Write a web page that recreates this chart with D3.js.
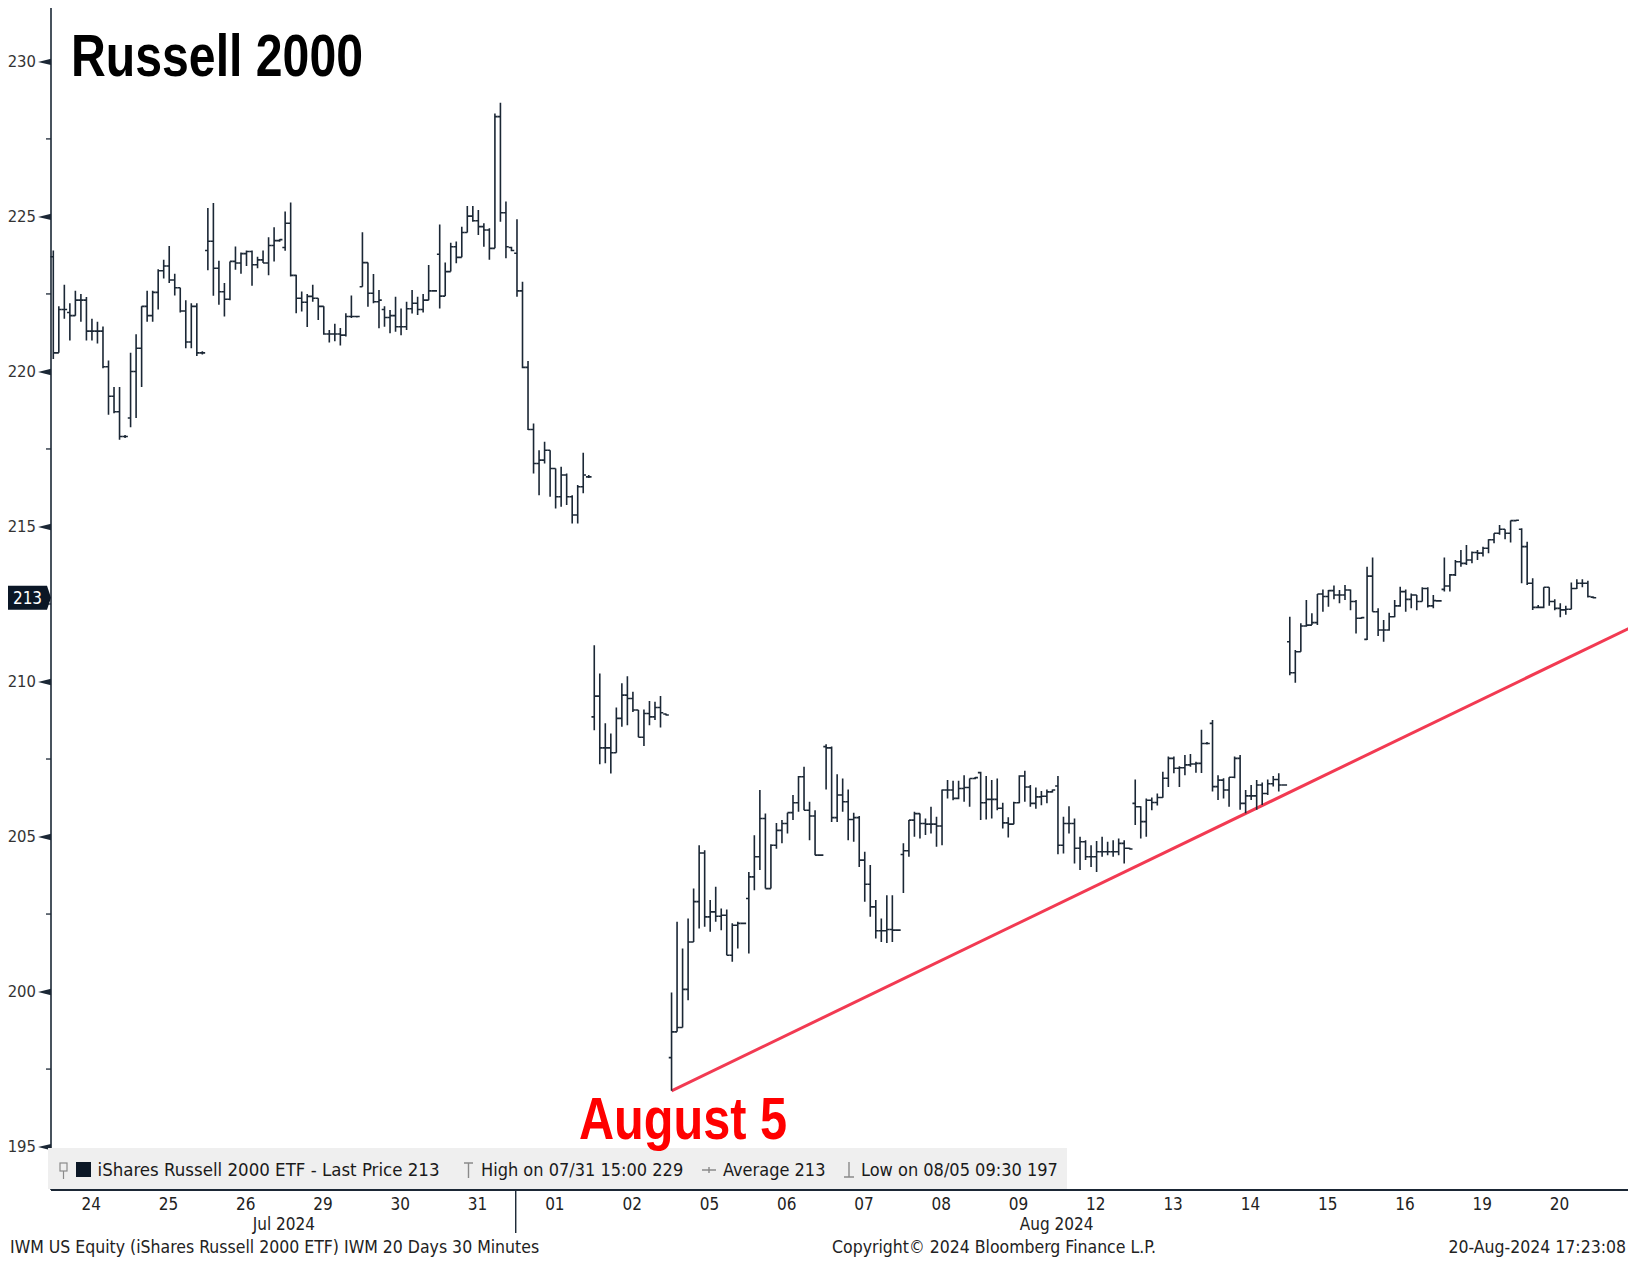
<!DOCTYPE html>
<html>
<head>
<meta charset="utf-8">
<title>Russell 2000</title>
<script src="https://cdnjs.cloudflare.com/ajax/libs/d3/7.8.5/d3.min.js"></script>
<style>
    body { margin: 0; background: #ffffff; }
    #chart svg { display: block; font-family: "DejaVu Sans Condensed", "DejaVu Sans", sans-serif; }
    .big-label { font-family: "Liberation Sans Narrow", "Arial Narrow", "Liberation Sans", sans-serif; font-weight: bold; }
</style>
</head>
<body>
<div id="chart"></div>
<script>

// trading days on the x axis (14 thirty-minute bars each, 09:30 .. 16:00)
const dayLabels = ["24", "25", "26", "29", "30", "31", "01", "02", "05", "06",
                   "07", "08", "09", "12", "13", "14", "15", "16", "19", "20"];
const monthLabels = ["Jul 2024", "Aug 2024"];
const monthFirstDay = [0, 6];
const barsPerDay = 14;

// IWM 30 minute bars, one row per day
const opens = [
    223.7, 220.6, 222.0, 221.9, 221.8, 222.3, 222.3, 221.3, 221.3, 221.3, 220.15, 219.2, 218.7, 217.9,
    218.5, 220.0, 220.75, 222.1, 221.8, 222.55, 223.25, 223.4, 222.95, 222.7, 221.95, 220.95, 222.1, 220.6,
    223.9, 224.2, 223.33, 222.57, 222.33, 223.55, 223.5, 223.8, 223.87, 223.44, 223.6, 223.5, 224.06, 224.22,
    224.0, 224.78, 223.1, 222.36, 222.23, 222.42, 222.36, 222.1, 221.21, 221.21, 221.21, 221.17, 221.77, 221.77,
    222.73, 223.51, 222.52, 222.25, 222.0, 221.74, 221.8, 221.44, 221.44, 222.02, 222.2, 222.0, 222.3, 222.6,
    223.78, 222.43, 223.22, 224.02, 223.68, 224.48, 225.01, 224.86, 224.67, 224.56, 223.97, 228.22, 225.12, 224.0,
    223.81, 222.6, 220.13, 218.13, 217.03, 217.14, 217.46, 216.87, 215.96, 216.66, 215.96, 215.37, 216.28, 216.6,
    208.86, 209.53, 207.86, 207.86, 207.7, 208.81, 209.56, 209.45, 209.08, 208.2, 208.97, 208.86, 209.16, 208.95,
    197.87, 198.7, 198.84, 200.07, 201.6, 202.9, 204.47, 202.41, 202.57, 202.43, 202.46, 201.17, 202.14, 202.2,
    203.0, 203.7, 204.35, 205.58, 203.32, 204.72, 205.2, 205.42, 205.77, 206.09, 206.93, 205.85, 205.66, 204.4,
    207.9, 207.86, 205.61, 206.34, 206.12, 205.55, 205.61, 204.24, 203.46, 202.73, 201.96, 201.96, 202.0, 201.98,
    204.42, 204.54, 205.53, 205.74, 205.42, 205.4, 205.4, 205.34, 206.5, 206.5, 206.23, 206.55, 206.58, 206.87,
    207.06, 206.09, 206.2, 206.2, 205.91, 205.44, 205.4, 206.09, 206.95, 206.6, 206.07, 206.28, 206.3, 206.44,
    206.63, 204.72, 205.42, 205.42, 204.62, 204.83, 204.35, 204.35, 204.51, 204.51, 204.51, 204.51, 204.78, 204.62,
    206.07, 205.96, 205.48, 206.17, 206.1, 206.26, 206.88, 207.52, 207.2, 207.22, 207.31, 207.34, 207.36, 208.0,
    208.65, 206.61, 206.82, 206.5, 206.91, 207.52, 206.07, 206.31, 206.31, 206.66, 206.39, 206.7, 206.84, 206.66,
    211.28, 210.28, 210.96, 211.79, 211.82, 211.9, 212.82, 212.74, 212.93, 212.79, 212.79, 212.95, 212.58, 212.04,
    211.36, 213.4, 212.25, 211.66, 211.66, 212.09, 212.44, 212.9, 212.65, 212.79, 212.58, 213.0, 212.44, 212.6,
    212.97, 213.08, 213.44, 213.86, 213.81, 213.92, 214.16, 214.14, 214.3, 214.57, 214.78, 214.91, 214.78, 215.19,
    214.91, 214.35, 213.17, 212.39, 212.39, 213.04, 212.58, 212.36, 212.31, 212.33, 213.0, 213.17, 213.17, 212.72
];
const highs = [
    223.9, 222.1, 222.8, 222.2, 222.6, 222.5, 222.4, 221.7, 221.6, 221.45, 220.35, 219.5, 219.5, 217.95,
    220.6, 221.2, 222.1, 222.6, 222.6, 223.3, 223.6, 224.05, 223.15, 222.7, 222.3, 222.2, 222.2, 220.65,
    225.27, 225.43, 223.57, 222.85, 223.55, 224.03, 223.84, 223.9, 223.9, 223.7, 223.9, 224.33, 224.65, 224.26,
    225.16, 225.45, 223.12, 222.58, 222.5, 222.8, 222.36, 222.1, 221.34, 221.54, 221.4, 221.88, 222.45, 221.8,
    224.49, 223.51, 223.14, 222.63, 222.1, 221.98, 222.41, 222.03, 222.25, 222.63, 222.41, 222.5, 223.43, 222.62,
    224.74, 223.51, 224.15, 224.19, 224.67, 225.34, 225.34, 225.21, 224.78, 224.62, 228.32, 228.67, 225.48, 224.02,
    224.91, 222.89, 220.34, 218.32, 217.46, 217.73, 217.46, 216.87, 216.93, 216.71, 216.01, 216.34, 217.38, 216.66,
    211.17, 210.26, 208.65, 208.32, 209.16, 209.94, 210.17, 209.67, 209.08, 209.1, 209.37, 209.35, 209.53, 208.97,
    199.97, 202.25, 201.39, 202.36, 203.32, 204.72, 204.56, 202.95, 203.38, 202.68, 202.65, 202.2, 202.25, 202.22,
    203.86, 205.04, 206.5, 205.74, 204.75, 205.44, 205.53, 205.77, 206.34, 206.95, 207.25, 206.12, 205.85, 204.42,
    207.98, 207.9, 207.01, 206.87, 206.52, 205.77, 205.66, 204.51, 204.08, 202.95, 202.36, 203.11, 203.11, 202.0,
    204.78, 205.53, 205.8, 205.74, 205.58, 205.96, 205.64, 206.52, 206.82, 206.8, 206.8, 206.98, 206.87, 206.92,
    207.09, 206.95, 206.82, 206.87, 206.09, 205.62, 206.12, 206.98, 207.12, 206.66, 206.58, 206.47, 206.52, 206.52,
    206.95, 205.64, 205.98, 205.58, 204.99, 204.88, 204.72, 204.86, 204.99, 204.83, 204.88, 204.94, 204.88, 204.64,
    206.84, 205.98, 206.23, 206.26, 206.39, 207.09, 207.58, 207.58, 207.27, 207.63, 207.66, 207.41, 208.44, 208.05,
    208.76, 206.98, 206.88, 206.91, 207.58, 207.63, 206.5, 206.66, 206.82, 206.74, 206.84, 206.95, 207.04, 206.68,
    212.09, 211.02, 211.88, 212.63, 212.2, 212.82, 212.97, 212.95, 213.1, 212.95, 213.11, 212.97, 212.63, 212.08,
    213.7, 214.0, 212.36, 211.98, 212.22, 212.63, 213.06, 212.97, 212.84, 212.79, 213.04, 213.04, 212.79, 212.62,
    214.0, 213.47, 213.92, 214.24, 214.4, 214.19, 214.24, 214.35, 214.59, 214.78, 215.05, 214.91, 215.19, 215.21,
    214.94, 214.51, 213.33, 212.47, 213.04, 213.04, 212.65, 212.52, 212.44, 213.19, 213.3, 213.3, 213.25, 212.74
];
const lows = [
    220.4, 220.6, 221.7, 221.0, 221.8, 221.6, 221.0, 221.0, 220.9, 220.1, 218.6, 218.65, 217.8, 217.85,
    218.2, 218.5, 219.5, 221.6, 221.6, 222.0, 223.0, 222.85, 222.45, 221.9, 220.75, 220.75, 220.5, 220.55,
    223.26, 222.44, 222.15, 221.77, 222.3, 223.28, 223.15, 223.4, 222.76, 223.33, 223.5, 223.1, 223.55, 224.18,
    223.89, 223.06, 221.88, 221.93, 221.43, 222.25, 221.66, 221.18, 220.93, 220.97, 220.84, 221.13, 221.72, 221.74,
    222.73, 222.09, 222.2, 221.39, 221.44, 221.23, 221.28, 221.17, 221.34, 221.87, 221.82, 221.9, 222.3, 222.58,
    222.03, 222.43, 223.22, 223.49, 223.68, 224.48, 224.83, 224.4, 224.02, 223.6, 223.97, 224.83, 223.65, 223.88,
    222.41, 220.1, 218.11, 216.71, 216.01, 217.03, 215.96, 215.58, 215.64, 215.69, 215.1, 215.1, 216.07, 216.56,
    208.43, 207.33, 207.36, 207.03, 207.7, 208.54, 208.59, 209.02, 208.2, 207.92, 208.59, 208.76, 208.52, 208.9,
    196.8, 198.7, 198.84, 199.72, 201.6, 202.03, 202.09, 201.93, 202.25, 201.98, 201.17, 200.96, 201.39, 202.18,
    201.23, 203.27, 203.92, 203.32, 203.32, 204.61, 204.78, 205.1, 205.53, 205.8, 205.85, 204.88, 204.4, 204.38,
    206.52, 205.47, 205.47, 205.8, 204.88, 204.83, 204.02, 202.9, 202.41, 201.71, 201.6, 201.57, 201.6, 201.96,
    203.18, 204.35, 204.99, 204.94, 205.05, 205.1, 204.67, 204.72, 206.23, 206.17, 206.2, 206.12, 205.96, 206.85,
    205.53, 205.55, 205.58, 205.85, 205.26, 204.97, 205.4, 206.07, 206.12, 205.96, 205.9, 206.01, 206.07, 206.42,
    204.43, 204.45, 205.1, 204.13, 203.92, 204.24, 204.02, 203.86, 204.35, 204.4, 204.35, 204.4, 204.13, 204.58,
    205.37, 204.94, 204.99, 205.85, 206.0, 206.25, 206.6, 207.04, 206.6, 206.98, 207.25, 207.06, 207.05, 207.97,
    206.45, 206.18, 206.23, 205.96, 206.88, 205.86, 205.75, 206.18, 205.86, 206.02, 206.34, 206.61, 206.45, 206.64,
    210.2, 209.96, 210.96, 211.77, 211.82, 211.82, 212.25, 212.41, 212.65, 212.52, 212.63, 212.3, 211.55, 212.02,
    211.34, 212.25, 211.47, 211.28, 211.64, 212.07, 212.41, 212.25, 212.36, 212.3, 212.58, 212.39, 212.36, 212.58,
    212.9, 212.9, 213.4, 213.7, 213.76, 213.81, 213.92, 214.03, 214.14, 214.46, 214.73, 214.59, 214.48, 215.17,
    213.17, 213.11, 212.31, 212.36, 212.36, 212.44, 212.3, 212.07, 212.15, 212.33, 212.98, 213.04, 212.71, 212.68
];
const closes = [
    220.6, 222.0, 222.0, 221.8, 222.3, 222.3, 221.3, 221.3, 221.3, 220.15, 219.2, 218.7, 217.9, 217.9,
    220.0, 220.75, 222.1, 221.8, 222.55, 223.25, 223.4, 222.95, 222.7, 221.95, 220.95, 222.1, 220.6, 220.6,
    224.2, 223.33, 222.57, 222.33, 223.55, 223.5, 223.8, 223.87, 223.44, 223.6, 223.5, 224.06, 224.22, 224.25,
    224.78, 223.1, 222.36, 222.23, 222.42, 222.36, 222.1, 221.21, 221.21, 221.21, 221.17, 221.77, 221.77, 221.77,
    223.51, 222.52, 222.25, 222.3, 221.74, 221.8, 221.44, 221.44, 222.02, 222.2, 222.0, 222.3, 222.6, 222.6,
    222.43, 223.22, 224.02, 223.68, 224.48, 225.01, 224.86, 224.67, 224.56, 223.97, 228.22, 225.12, 224.02, 223.9,
    222.6, 220.13, 218.13, 217.03, 217.14, 217.46, 216.87, 215.96, 216.66, 215.96, 215.37, 216.28, 216.66, 216.6,
    209.53, 207.86, 207.86, 207.7, 208.81, 209.56, 209.45, 209.08, 208.2, 208.97, 208.86, 209.16, 208.99, 208.92,
    198.7, 198.84, 200.07, 201.6, 202.9, 204.47, 202.41, 202.57, 202.43, 202.46, 201.17, 202.14, 202.2, 202.2,
    203.7, 204.35, 205.58, 203.32, 204.72, 205.2, 205.42, 205.77, 206.09, 206.93, 205.85, 205.66, 204.4, 204.4,
    207.86, 205.61, 206.34, 206.12, 205.55, 205.61, 204.24, 203.46, 202.73, 201.96, 201.96, 202.0, 201.98, 201.98,
    204.54, 205.53, 205.74, 205.42, 205.4, 205.4, 205.34, 206.5, 206.5, 206.23, 206.55, 206.58, 206.87, 206.9,
    206.09, 206.2, 206.2, 205.91, 205.44, 205.4, 206.09, 206.95, 206.6, 206.07, 206.28, 206.3, 206.44, 206.5,
    204.72, 205.42, 205.42, 204.62, 204.83, 204.35, 204.35, 204.51, 204.51, 204.51, 204.51, 204.78, 204.62, 204.6,
    205.96, 205.48, 206.17, 206.1, 206.26, 206.88, 207.52, 207.2, 207.22, 207.31, 207.34, 207.36, 208.0, 208.0,
    206.61, 206.82, 206.5, 206.91, 207.52, 206.07, 206.31, 206.31, 206.66, 206.39, 206.7, 206.84, 206.66, 206.66,
    210.28, 210.96, 211.79, 211.82, 211.9, 212.82, 212.74, 212.93, 212.79, 212.79, 212.95, 212.58, 212.04, 212.06,
    213.4, 212.25, 211.66, 211.66, 212.09, 212.44, 212.9, 212.65, 212.79, 212.58, 213.0, 212.44, 212.61, 212.6,
    213.08, 213.44, 213.86, 213.81, 213.92, 214.16, 214.14, 214.3, 214.57, 214.78, 214.91, 214.78, 215.19, 215.2,
    214.35, 213.17, 212.39, 212.39, 213.04, 212.58, 212.36, 212.31, 212.33, 213.0, 213.17, 213.17, 212.74, 212.7
];

const yTicks = [195, 200, 205, 210, 215, 220, 225, 230];
const lastPrice = 212.7;
const lastPriceLabel = "213";

// support line drawn from the Aug 5 low (bar index, price)
const trendBars = [112, 285.5];
const trendPrices = [196.8, 211.72];

const legendTexts = ["iShares Russell 2000 ETF - Last Price 213", "High on 07/31 15:00 229",
                     "Average 213", "Low on 08/05 09:30 197"];
const titleText = "Russell 2000";
const noteText = "August 5";
const footerLeft = "IWM US Equity (iShares Russell 2000 ETF) IWM 20 Days 30 Minutes";
const footerMid = "Copyright\u00a9 2024 Bloomberg Finance L.P.";
const footerRight = "20-Aug-2024 17:23:08";


class OhlcChart {

    constructor(parentElement) {
        this._parentElement = parentElement;
        this._bars = opens.map((o, i) => ({i: i, o: o, h: highs[i], l: lows[i], c: closes[i]}));
    }

    initVis() {
        let vis = this;

        vis.width = 1628;
        vis.height = 1262;
        vis.axisX = 51;        // left edge of plot (y axis line)
        vis.axisY = 1190;      // bottom of plot (x axis line)

        vis.svg = d3.select("#" + vis._parentElement).append("svg")
            .attr("width", vis.width)
            .attr("height", vis.height);

        // Scales
        vis.x = d3.scaleLinear()
            .domain([0, vis._bars.length - 1])
            .range([53.3, 1593.4]);

        vis.y = d3.scaleLinear()
            .domain([193.6, 231.98])
            .range([vis.axisY, 0]);

        vis.drawTrend();
        vis.updateVis();
        vis.drawAxes();
        vis.drawLegend();
        vis.drawLabels();
    }

    updateVis() {
        let vis = this;
        let tick = 2.8;

        vis.svg.append("g")
            .attr("class", "bars")
            .selectAll("path")
            .data(vis._bars)
            .enter().append("path")
            .attr("fill", "none")
            .attr("stroke", "#1b2735")
            .attr("stroke-width", 1.6)
            .attr("d", d => {
                let cx = vis.x(d.i);
                return "M" + cx + "," + vis.y(d.h) + "V" + vis.y(d.l) +
                    "M" + (cx - tick) + "," + vis.y(d.o) + "H" + cx +
                    "M" + cx + "," + vis.y(d.c) + "H" + (cx + tick);
            });
    }

    drawTrend() {
        let vis = this;
        vis.svg.append("line")
            .attr("x1", vis.x(trendBars[0]))
            .attr("y1", vis.y(trendPrices[0]))
            .attr("x2", vis.x(trendBars[1]))
            .attr("y2", vis.y(trendPrices[1]))
            .attr("stroke", "#f23a52")
            .attr("stroke-width", 3);
    }

    drawAxes() {
        let vis = this;

        // y axis: labels from d3, Bloomberg style arrow ticks drawn by hand
        let yAxis = d3.axisLeft(vis.y)
            .tickValues(yTicks)
            .tickSize(0)
            .tickPadding(15);

        let yg = vis.svg.append("g")
            .attr("class", "y-axis axis")
            .attr("transform", "translate(" + vis.axisX + ",0)")
            .call(yAxis);
        yg.select(".domain").remove();
        yg.selectAll("text")
            .attr("font-family", "DejaVu Sans Condensed, DejaVu Sans, sans-serif")
            .attr("font-size", 16.5)
            .attr("fill", "#333");

        yg.selectAll(".tick").append("path")
            .attr("d", "M-13,0 L0,-3.2 L0,3.2 Z")
            .attr("fill", "#1b2735");

        let minor = d3.range(197.5, 231, 5);
        yg.selectAll(".minor")
            .data(minor)
            .enter().append("line")
            .attr("class", "minor")
            .attr("x1", -5).attr("x2", 0)
            .attr("y1", d => vis.y(d)).attr("y2", d => vis.y(d))
            .attr("stroke", "#1b2735")
            .attr("stroke-width", 1.3);

        vis.svg.append("line")
            .attr("x1", vis.axisX).attr("x2", vis.axisX)
            .attr("y1", 8).attr("y2", vis.axisY)
            .attr("stroke", "#1b2735")
            .attr("stroke-width", 1.6);

        // x axis: one label per trading day, centred on its 14 bars
        let dayCentres = dayLabels.map((d, i) => i * barsPerDay + (barsPerDay - 1) / 2);
        let xAxis = d3.axisBottom(vis.x)
            .tickValues(dayCentres)
            .tickFormat((d, i) => dayLabels[i])
            .tickSize(0)
            .tickPadding(8);

        let xg = vis.svg.append("g")
            .attr("class", "x-axis axis")
            .attr("transform", "translate(1.5," + vis.axisY + ")")
            .call(xAxis);
        xg.select(".domain").remove();
        xg.selectAll("text")
            .attr("font-family", "DejaVu Sans Condensed, DejaVu Sans, sans-serif")
            .attr("font-size", 17)
            .attr("fill", "#222");

        // month labels under the day labels
        monthLabels.forEach((m, i) => {
            let first = monthFirstDay[i];
            let last = i + 1 < monthFirstDay.length ? monthFirstDay[i + 1] - 1 : dayLabels.length - 1;
            let mid = (dayCentres[first] + dayCentres[last]) / 2;
            vis.svg.append("text")
                .attr("x", vis.x(mid) + 1.5)
                .attr("y", 1230)
                .attr("text-anchor", "middle")
                .attr("font-size", 17)
                .attr("fill", "#222")
                .text(m);
        });

        // separator between the months
        let sep = vis.x(monthFirstDay[1] * barsPerDay - 0.5) + 1.5;
        vis.svg.append("line")
            .attr("x1", sep).attr("x2", sep)
            .attr("y1", vis.axisY).attr("y2", 1233)
            .attr("stroke", "#1b2735")
            .attr("stroke-width", 1.4);

        vis.svg.append("line")
            .attr("x1", vis.axisX).attr("x2", vis.width)
            .attr("y1", vis.axisY).attr("y2", vis.axisY)
            .attr("stroke", "#1b2735")
            .attr("stroke-width", 2);

        // last price tag on the y axis
        let ly = vis.y(lastPrice);
        vis.svg.append("path")
            .attr("d", "M8," + (ly - 12) + "H47L51," + ly + "L47," + (ly + 12) + "H8Z")
            .attr("fill", "#0b1726");
        vis.svg.append("text")
            .attr("x", 27.5)
            .attr("y", ly + 6)
            .attr("text-anchor", "middle")
            .attr("font-size", 17)
            .attr("fill", "#ffffff")
            .text(lastPriceLabel);
    }

    drawLegend() {
        let vis = this;
        let top = 1148;
        let base = 1176;
        let grey = "#8a8a8a";

        let lg = vis.svg.append("g").attr("class", "legend");

        lg.append("rect")
            .attr("x", 48).attr("y", top)
            .attr("width", 1019).attr("height", vis.axisY - top - 1)
            .attr("fill", "#efefef");

        // pin + series swatch
        lg.append("rect")
            .attr("x", 60).attr("y", 1163).attr("width", 7).attr("height", 8)
            .attr("fill", "none").attr("stroke", grey).attr("stroke-width", 1.2);
        lg.append("line")
            .attr("x1", 63.5).attr("x2", 63.5).attr("y1", 1171).attr("y2", 1179)
            .attr("stroke", grey).attr("stroke-width", 1.2);
        lg.append("rect")
            .attr("x", 76).attr("y", 1162).attr("width", 15).attr("height", 15)
            .attr("fill", "#0b1726");

        // high marker
        lg.append("path")
            .attr("d", "M464,1163H473M468.5,1163V1178")
            .attr("stroke", grey).attr("stroke-width", 1.4).attr("fill", "none");
        // average marker
        lg.append("path")
            .attr("d", "M702,1170H716M709,1167V1173")
            .attr("stroke", grey).attr("stroke-width", 1.4).attr("fill", "none");
        // low marker
        lg.append("path")
            .attr("d", "M849,1162V1177M844,1177H854")
            .attr("stroke", grey).attr("stroke-width", 1.4).attr("fill", "none");

        let xs = [97.5, 481, 723, 861];
        let sizes = [18.5, 18, 18, 18];
        lg.selectAll("text.legend-item")
            .data(legendTexts)
            .enter().append("text")
            .attr("class", "legend-item")
            .attr("x", (d, i) => xs[i])
            .attr("y", base)
            .attr("font-size", (d, i) => sizes[i])
            .attr("fill", "#1a1a1a")
            .text(d => d);
    }

    drawLabels() {
        let vis = this;

        // condensed bold headline: squeeze to the narrow width of the original
        vis.svg.append("text")
            .attr("class", "big-label")
            .attr("x", 71)
            .attr("y", 75.5)
            .attr("font-size", 60)
            .attr("fill", "#000")
            .attr("textLength", 292)
            .attr("lengthAdjust", "spacingAndGlyphs")
            .text(titleText);

        vis.svg.append("text")
            .attr("class", "big-label")
            .attr("x", 579)
            .attr("y", 1139)
            .attr("font-size", 60)
            .attr("fill", "#ff0000")
            .attr("textLength", 208)
            .attr("lengthAdjust", "spacingAndGlyphs")
            .text(noteText);

        // footer
        vis.svg.append("text")
            .attr("x", 10).attr("y", 1253)
            .attr("font-size", 17.5).attr("fill", "#222")
            .text(footerLeft);
        vis.svg.append("text")
            .attr("x", 994).attr("y", 1253)
            .attr("text-anchor", "middle")
            .attr("font-size", 17.5).attr("fill", "#222")
            .text(footerMid);
        vis.svg.append("text")
            .attr("x", 1626).attr("y", 1253)
            .attr("text-anchor", "end")
            .attr("font-size", 17.5).attr("fill", "#222")
            .text(footerRight);
    }
}

let chart = new OhlcChart("chart");
chart.initVis();

</script>
</body>
</html>
